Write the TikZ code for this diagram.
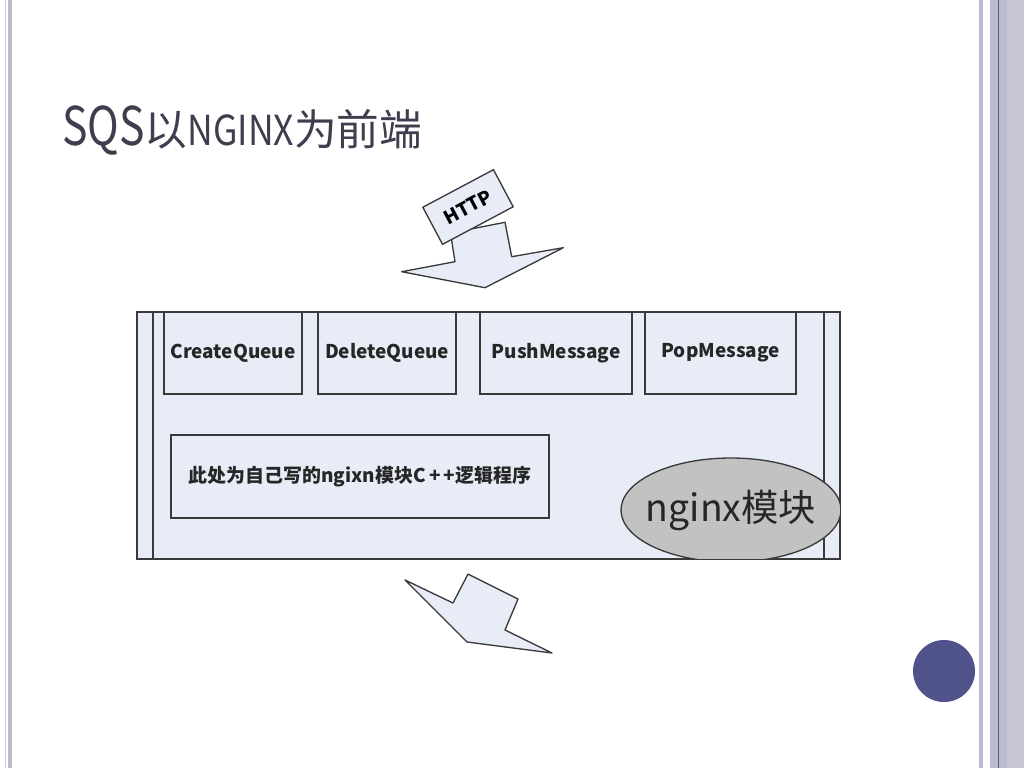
\documentclass[tikz,border=0pt]{standalone}
\usepackage{fontspec}
\setmainfont{Noto Sans CJK SC}
\newfontfamily\tlat[FakeStretch=0.8]{Noto Sans CJK SC}
\newfontfamily\tlatb[FakeStretch=0.86]{Noto Sans CJK SC}
\usetikzlibrary{shapes.geometric}
\definecolor{titlec}{HTML}{3E3E4E}
\definecolor{boxfill}{HTML}{E7ECF6}
\definecolor{boxline}{HTML}{3A3A3A}
\definecolor{ellfill}{HTML}{C2C2C2}
\definecolor{stripe}{HTML}{BBBBCF}
\definecolor{stripelight}{HTML}{C8C8DC}
\definecolor{stripedark}{HTML}{5A5A7E}
\definecolor{dotc}{HTML}{50528A}
\tikzset{
  opbox/.style={draw=boxline, fill=boxfill, line width=1pt, inner sep=0pt,
    minimum height=82*0.75pt, text=black!85,
    font=\bfseries\fontsize{14.2}{14.2}\selectfont},
  arrowshape/.style={draw=boxline, fill=boxfill, line width=1pt, line join=round},
}
\begin{document}
\begin{tikzpicture}[x=0.75pt,y=-0.75pt]
\useasboundingbox (0,0) rectangle (1024,768);
\fill[white] (0,0) rectangle (1024,768);
% left stripes
\fill[stripelight] (5,0) rectangle (6.3,768);
\fill[stripe] (8,0) rectangle (12,768);
% right stripes
\fill[stripe] (979.3,0) rectangle (983.3,768);
\fill[stripe] (990,0) rectangle (1024,768);
\fill[stripe!85!white] (1006.7,0) rectangle (1024,768);
\fill[stripedark] (997.8,0) rectangle (999,768);
% dot
\fill[dotc] (944,671) circle (31);
% title
\node[anchor=base west, text=titlec, inner sep=0pt] (title) at (62,145)
  {{\tlat\fontsize{40}{40}\selectfont SQS}{\fontsize{32}{32}\selectfont 以}{\tlatb\fontsize{31}{31}\selectfont NGINX}{\fontsize{32}{32}\selectfont 为前端}};
% top arrow
\draw[arrowshape] (401.7,271.7) -- (485,287.7) -- (563.3,247.7) -- (511.7,256.7)
  -- (505,222.3) -- (450.5,233) -- (455,261.7) -- cycle;
\node[draw=boxline, fill=boxfill, line width=1pt, rotate=28,
  minimum width=80*0.75pt, minimum height=42*0.75pt, inner sep=0pt,
  font=\bfseries\fontsize{14}{14}\selectfont] (http) at (468,207) {HTTP};
% main box
\node[draw=boxline, fill=boxfill, line width=1pt, inner sep=0pt,
  minimum width=703*0.75pt, minimum height=247*0.75pt] (main) at (488.5,435.5) {};
\draw[boxline, line width=1pt] (153,312) -- (153,559);
\draw[boxline, line width=1pt] (824,312) -- (824,559);
\node[opbox, minimum width=138*0.75pt] (create) at (233,353) {CreateQueue};
\node[opbox, minimum width=138*0.75pt] (delete) at (387,353) {DeleteQueue};
\node[opbox, minimum width=152*0.75pt] (push) at (556,353) {PushMessage};
\node[opbox, minimum width=151*0.75pt] (pop) at (720.5,353) {PopMessage};
\node[opbox, minimum width=378*0.75pt, minimum height=83*0.75pt,
  font=\bfseries\fontsize{14.2}{14.2}\selectfont] (logic) at (360,476.5)
  {此处为自己写的ngixn模块C\,+\,+逻辑程序};
\begin{scope}
  \clip (137,312) rectangle (840,559);
  \node[ellipse, draw=boxline, fill=ellfill, line width=1pt, inner sep=0pt,
    minimum width=220*0.75pt, minimum height=104*0.75pt] (ngx) at (731,510) {};
\end{scope}
\node[font=\fontsize{28}{28}\selectfont, text=black!85, inner sep=0pt] (ngxlabel)
  at (ngx.center) {nginx模块};
\draw[boxline, line width=1pt] (main.north west) rectangle (main.south east);
% bottom arrow
\draw[arrowshape] (405,580) -- (453,603) -- (468,574) -- (518,599) -- (505,630)
  -- (552,653) -- (467,642) -- cycle;
\end{tikzpicture}
\end{document}
